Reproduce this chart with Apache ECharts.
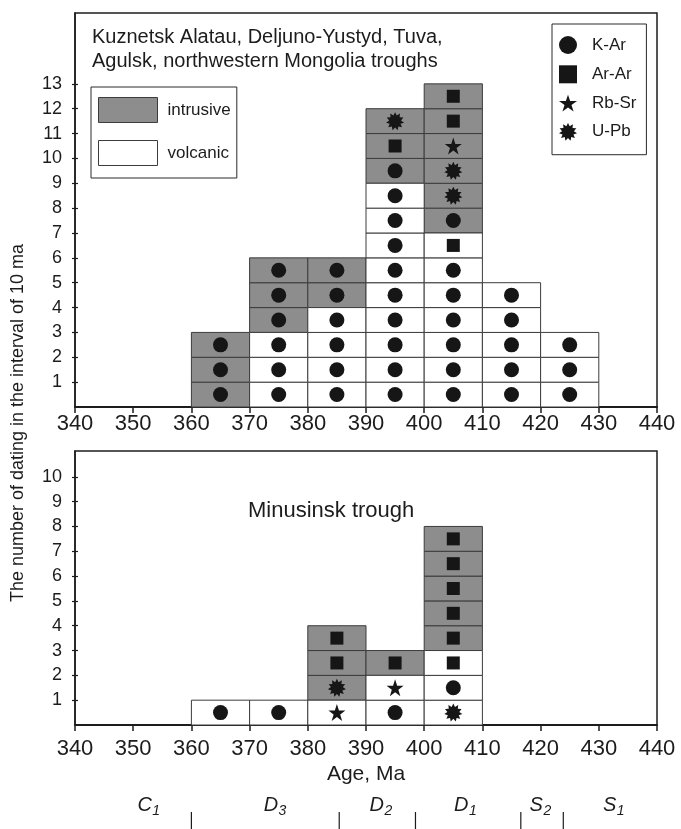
<!DOCTYPE html>
<html>
<head>
<meta charset="utf-8">
<script src="https://cdn.jsdelivr.net/npm/echarts@6/dist/echarts.min.js"></script>
<style>
  html, body { margin: 0; padding: 0; background: #fff; }
  #chart { width: 681px; height: 829px; }
</style>
</head>
<body>
<div id="chart"></div>
<script>
// Age bins (Ma, start of each 10 Ma interval)
const binWidth = 10;
const ageTicks = [340, 350, 360, 370, 380, 390, 400, 410, 420, 430, 440];

// Upper panel: Kuznetsk Alatau, Deljuno-Yustyd, Tuva, Agulsk, NW Mongolia troughs.
// Each string lists one bin's datings from bottom to top.
// Rock: I = intrusive, V = volcanic.  Method: K = K-Ar, A = Ar-Ar, R = Rb-Sr, U = U-Pb
const upperBins   = [360, 370, 380, 390, 400, 410, 420];
const upperRock   = ['III', 'VVVIII', 'VVVVII', 'VVVVVVVVVIII', 'VVVVVVVIIIIII', 'VVVVV', 'VVV'];
const upperMethod = ['KKK', 'KKKKKK', 'KKKKKK', 'KKKKKKKKKKAU', 'KKKKKKAKUURAA', 'KKKKK', 'KKK'];
const upperTicks  = [1, 2, 3, 4, 5, 6, 7, 8, 9, 10, 11, 12, 13];

// Lower panel: Minusinsk trough
const lowerBins   = [360, 370, 380, 390, 400];
const lowerRock   = ['V', 'V', 'VIII', 'VVI', 'VVVIIIII'];
const lowerMethod = ['K', 'K', 'RUAA', 'KRA', 'UKAAAAAA'];
const lowerTicks  = [1, 2, 3, 4, 5, 6, 7, 8, 9, 10];

// Stratigraphic scale below the age axis
const periodLetters = ['C', 'D', 'D', 'D', 'S', 'S'];
const periodIndices = ['1', '3', '2', '1', '2', '1'];
const periodLabelAt = [353.2, 374.9, 393.1, 407.6, 420.4, 433.0];
const periodBounds  = [360.0, 385.4, 398.5, 416.6, 423.9];

const rockNames   = { I: 'intrusive', V: 'volcanic' };
const methodNames = { K: 'K-Ar', A: 'Ar-Ar', R: 'Rb-Sr', U: 'U-Pb' };

// ---- styling ----
const INK = '#161616';
const CELL_STROKE = '#3c3c3c';
const rockFill = { intrusive: '#8d8d8d', volcanic: '#ffffff' };

function burstPath(points, inner) {
  let d = '';
  for (let k = 0; k < points * 2; k++) {
    const a = k * Math.PI / points - Math.PI / 2;
    const r = k % 2 === 0 ? 50 : 50 * inner;
    const x = (50 + r * Math.cos(a)).toFixed(2);
    const y = (50 + r * Math.sin(a)).toFixed(2);
    d += (k === 0 ? 'M' : 'L') + x + ',' + y + ' ';
  }
  return 'path://' + d + 'Z';
}
const starPath = 'path://M50,0 L61.8,35.1 L98.9,35.1 L68.9,56.8 L80.2,91.9 L50,70.2 L19.8,91.9 L31.1,56.8 L1.1,35.1 L38.2,35.1 Z';

const methodSymbol = {
  'K-Ar':  { symbol: 'circle', size: 15 },
  'Ar-Ar': { symbol: 'rect', size: 13 },
  'Rb-Sr': { symbol: starPath, size: 17 },
  'U-Pb':  { symbol: burstPath(11, 0.66), size: 18 }
};

// Expand the per-bin strings into individual cells
function buildCells(bins, rocks, methods) {
  const cells = [];
  bins.forEach((b, i) => {
    for (let j = 0; j < rocks[i].length; j++) {
      cells.push({ x0: b, row: j + 1, rock: rockNames[rocks[i][j]], method: methodNames[methods[i][j]] });
    }
  });
  return cells;
}
const upperCells = buildCells(upperBins, upperRock, upperMethod);
const lowerCells = buildCells(lowerBins, lowerRock, lowerMethod);

function cellSeries(cells, rock, axisIdx, yIdx) {
  return {
    type: 'custom',
    name: rock,
    xAxisIndex: axisIdx,
    yAxisIndex: yIdx,
    z: 2,
    itemStyle: { color: rockFill[rock], borderColor: CELL_STROKE, borderWidth: 1 },
    data: cells.filter(c => c.rock === rock).map(c => [c.x0, c.row]),
    renderItem: function (params, api) {
      const x0 = api.value(0), row = api.value(1);
      const a = api.coord([x0, row - 1]);
      const b = api.coord([x0 + binWidth, row]);
      return {
        type: 'rect',
        shape: { x: a[0], y: b[1], width: b[0] - a[0], height: a[1] - b[1] },
        style: { fill: rockFill[rock], stroke: CELL_STROKE, lineWidth: 1 }
      };
    }
  };
}

function methodSeries(cells, method, axisIdx, yIdx) {
  return {
    type: 'scatter',
    name: method,
    xAxisIndex: axisIdx,
    yAxisIndex: yIdx,
    z: 3,
    symbol: methodSymbol[method].symbol,
    symbolSize: methodSymbol[method].size,
    itemStyle: { color: INK, opacity: 1 },
    emphasis: { disabled: true },
    data: cells.filter(c => c.method === method).map(c => [c.x0 + binWidth / 2, c.row - 0.5])
  };
}

const AXIS_FONT = 'Liberation Sans, Arial, sans-serif';

function ageAxis(gridIndex, margin) {
  return {
    type: 'value', gridIndex: gridIndex, min: 340, max: 440, interval: 10,
    axisLine: { show: true, onZero: false, lineStyle: { color: '#1c1c1c', width: 2 } },
    axisTick: { show: true, length: 6, lineStyle: { color: '#1c1c1c', width: 1.5 } },
    axisLabel: { show: true, margin: margin, color: '#1c1c1c', fontSize: 22,
                 fontFamily: 'Liberation Sans Narrow, Arial Narrow, ' + AXIS_FONT },
    splitLine: { show: false }
  };
}
function countAxis(gridIndex, max, ticks) {
  return {
    type: 'value', gridIndex: gridIndex, min: 0, max: max, interval: 1,
    axisLine: { show: true, onZero: false, lineStyle: { color: '#1c1c1c', width: 1.5 } },
    axisTick: { show: true, length: 3, customValues: ticks, lineStyle: { color: '#1c1c1c', width: 1.2 } },
    axisLabel: { show: true, margin: 13, customValues: ticks, color: '#1c1c1c', fontSize: 18, fontFamily: AXIS_FONT },
    splitLine: { show: false }
  };
}
function innerTickAxis(gridIndex, max, ticks) {
  return {
    type: 'value', gridIndex: gridIndex, min: 0, max: max, interval: 1, position: 'left',
    axisLine: { show: false, onZero: false },
    axisTick: { show: true, inside: true, length: 3, customValues: ticks, lineStyle: { color: '#1c1c1c', width: 1.2 } },
    axisLabel: { show: false },
    splitLine: { show: false }
  };
}

const methods = ['K-Ar', 'Ar-Ar', 'Rb-Sr', 'U-Pb'];
const rocks = ['intrusive', 'volcanic'];

const series = [];
rocks.forEach(r => series.push(cellSeries(upperCells, r, 0, 0)));
methods.forEach(m => series.push(methodSeries(upperCells, m, 0, 0)));
rocks.forEach(r => series.push(cellSeries(lowerCells, r, 1, 2)));
methods.forEach(m => series.push(methodSeries(lowerCells, m, 1, 2)));

// Stratigraphic boundaries
series.push({
  type: 'custom', xAxisIndex: 2, yAxisIndex: 4, silent: true,
  data: periodBounds.map(v => [v, 0]),
  renderItem: function (params, api) {
    const cs = params.coordSys;
    const px = api.coord([api.value(0), 0])[0];
    return { type: 'line', shape: { x1: px, y1: cs.y + 22, x2: px, y2: cs.y + cs.height },
             style: { stroke: '#1c1c1c', lineWidth: 1.2 } };
  }
});
// Stratigraphic unit labels (letter + subscript index)
series.push({
  type: 'custom', xAxisIndex: 2, yAxisIndex: 4, silent: true,
  data: periodLabelAt.map(v => [v, 0]),
  renderItem: function (params, api) {
    const cs = params.coordSys;
    const px = api.coord([api.value(0), 0])[0];
    const i = params.dataIndex;
    const cy = cs.y + 15;
    return {
      type: 'group',
      children: [
        { type: 'text', x: px, y: cy,
          style: { text: periodLetters[i], fill: '#1c1c1c', fontSize: 20, fontStyle: 'italic',
                   fontFamily: AXIS_FONT, align: 'right', verticalAlign: 'middle' } },
        { type: 'text', x: px + 0.5, y: cy + 6,
          style: { text: periodIndices[i], fill: '#1c1c1c', fontSize: 14, fontStyle: 'italic',
                   fontFamily: AXIS_FONT, align: 'left', verticalAlign: 'middle' } }
      ]
    };
  }
});

const option = {
  animation: false,
  backgroundColor: '#ffffff',
  textStyle: { fontFamily: AXIS_FONT },
  title: [
    { text: 'Kuznetsk Alatau, Deljuno-Yustyd, Tuva,\nAgulsk, northwestern Mongolia troughs',
      left: 87, top: 20,
      textStyle: { fontSize: 20, fontWeight: 'normal', color: '#1c1c1c', lineHeight: 24, fontFamily: AXIS_FONT } },
    { text: 'Minusinsk trough', left: 243, top: 495,
      textStyle: { fontSize: 22, fontWeight: 'normal', color: '#1c1c1c', fontFamily: AXIS_FONT } }
  ],
  grid: [
    { left: 75, right: 24, top: 13, height: 394, show: true, borderColor: '#1c1c1c', borderWidth: 1.5, backgroundColor: 'transparent' },
    { left: 75, right: 24, top: 451, height: 274, show: true, borderColor: '#1c1c1c', borderWidth: 1.5, backgroundColor: 'transparent' },
    { left: 75, right: 24, top: 790, height: 39, show: false }
  ],
  xAxis: [
    ageAxis(0, 6),
    Object.assign(ageAxis(1, 13), {
      name: 'Age, Ma', nameLocation: 'middle', nameGap: 39,
      nameTextStyle: { fontSize: 21, color: '#1c1c1c', fontFamily: 'Liberation Sans Narrow, Arial Narrow, ' + AXIS_FONT }
    }),
    { type: 'value', gridIndex: 2, min: 340, max: 440, show: false }
  ],
  yAxis: [
    countAxis(0, 15.85, upperTicks),
    innerTickAxis(0, 15.85, upperTicks),
    countAxis(1, 11.04, lowerTicks),
    innerTickAxis(1, 11.04, lowerTicks),
    { type: 'value', gridIndex: 2, min: 0, max: 1, show: false }
  ],
  legend: [
    { orient: 'vertical', left: 552, top: 24, selectedMode: false,
      data: methods, itemWidth: 18, itemHeight: 18, itemGap: 11.3,
      padding: [12, 10, 14, 7], borderColor: '#2a2a2a', borderWidth: 1,
      textStyle: { fontSize: 17, color: '#1c1c1c', padding: [0, 0, 0, 10], fontFamily: AXIS_FONT } },
    { orient: 'vertical', left: 91, top: 87, selectedMode: false,
      data: rocks.map(r => ({ name: r, icon: 'rect',
        itemStyle: { color: rockFill[r], borderColor: CELL_STROKE, borderWidth: 1 } })),
      itemWidth: 59, itemHeight: 25, itemGap: 17,
      padding: [10, 6, 12, 7], borderColor: '#2a2a2a', borderWidth: 1,
      textStyle: { fontSize: 17, color: '#1c1c1c', padding: [0, 0, 0, 5], fontFamily: AXIS_FONT } }
  ],
  graphic: [
    { type: 'text', x: 18, y: 423, rotation: Math.PI / 2,
      style: { text: 'The number of dating in the interval of 10 ma', fill: '#1c1c1c',
               fontSize: 18, fontFamily: AXIS_FONT, align: 'center', verticalAlign: 'middle' } }
  ],
  series: series
};

const chart = echarts.init(document.getElementById('chart'), null, { renderer: 'canvas' });
chart.setOption(option);
</script>
</body>
</html>
